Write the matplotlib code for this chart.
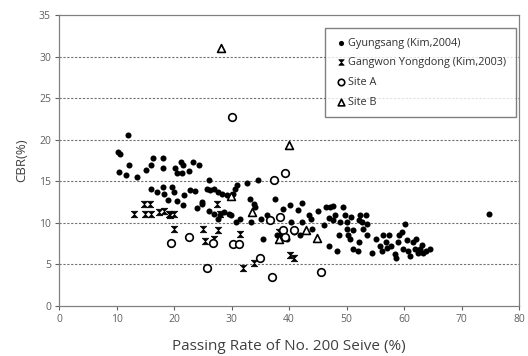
import matplotlib
matplotlib.use("Agg")
import matplotlib.pyplot as plt
from matplotlib.path import Path

plt.rcParams['font.family'] = ['Open Sans', 'DejaVu Sans']

gy_x = [10.2, 10.5, 12.0, 10.4, 12.2, 11.6, 13.5, 15.1, 15.9, 16.3, 18.1, 18.1, 16.0, 17.0, 18.1, 18.2,
        18.9, 19.7, 20.0, 20.2, 20.4, 21.1, 21.5, 21.3, 22.6, 23.2, 24.3, 20.5, 21.5, 21.7, 22.8, 23.6,
        24.0, 24.8, 24.9, 26.1, 25.7, 26.2, 27.0, 27.7, 28.3, 29.2, 26.1, 26.9, 27.7, 28.0, 28.7, 29.5,
        29.9, 30.6, 30.9, 30.2, 30.7, 31.4, 32.7, 34.5, 33.2, 33.8, 34.1, 33.4, 35.4, 35.1, 36.1, 37.5,
        37.9, 39.0, 39.6, 40.2, 40.4, 40.8, 41.6, 42.2, 41.9, 42.2, 43.4, 43.8, 43.9, 45.1, 46.0, 46.5,
        47.1, 47.7, 47.0, 47.7, 48.0, 47.0, 48.3, 48.6, 48.9, 49.3, 49.7, 50.0, 50.0, 50.3, 50.6, 50.7,
        51.1, 51.1, 51.9, 52.2, 52.1, 52.3, 52.6, 52.9, 53.4, 53.5, 53.6, 54.5, 55.2, 55.8, 56.1, 56.4,
        56.9, 57.1, 57.4, 57.8, 58.4, 58.6, 59.0, 59.2, 59.6, 59.9, 60.2, 60.6, 60.7, 61.0, 61.6, 61.9,
        62.1, 62.5, 62.8, 63.1, 63.3, 63.8, 64.5, 74.8]
gy_y = [18.5, 18.3, 20.6, 16.1, 16.9, 15.7, 15.5, 16.4, 17.0, 17.8, 17.8, 16.6, 14.1, 13.7, 14.3, 13.5,
        12.7, 14.3, 13.7, 16.6, 16.0, 17.3, 16.9, 16.0, 16.2, 17.3, 16.9, 12.6, 12.1, 13.3, 13.9, 13.8,
        11.8, 12.3, 12.5, 15.1, 14.1, 13.9, 14.1, 13.7, 13.5, 13.3, 11.4, 11.1, 10.5, 10.9, 11.3, 11.0,
        10.9, 14.1, 14.5, 13.5, 10.1, 10.4, 14.8, 15.2, 12.9, 12.3, 11.9, 10.1, 8.0, 10.5, 10.9, 12.9,
        8.5, 11.6, 8.0, 12.1, 10.1, 8.9, 11.5, 12.4, 8.5, 10.1, 10.9, 10.5, 9.3, 11.4, 9.7, 11.9,
        11.9, 12.0, 10.6, 10.3, 10.9, 7.2, 6.6, 8.5, 10.1, 11.9, 10.9, 10.1, 9.3, 8.5, 8.0, 10.7,
        9.1, 6.8, 6.6, 7.7, 10.3, 10.9, 10.1, 9.3, 10.9, 9.9, 8.5, 6.4, 8.0, 7.2, 6.6, 8.5,
        7.7, 6.9, 8.5, 7.2, 6.2, 5.8, 7.7, 8.5, 8.9, 6.8, 9.8, 7.9, 6.6, 6.0, 7.7, 6.8,
        8.0, 6.4, 6.8, 7.3, 6.4, 6.6, 6.8, 11.0]

gw_x = [13.0, 14.8, 15.7, 15.0, 15.9, 17.3, 18.3, 19.1, 19.3, 19.9, 19.9, 25.0, 25.4, 26.9, 27.4,
        27.9, 27.7, 31.5, 31.9, 33.8, 40.1, 40.9, 38.2, 38.5]
gw_y = [11.0, 12.3, 12.2, 11.1, 11.0, 11.3, 11.4, 11.1, 10.9, 11.1, 9.3, 9.3, 7.8, 8.0, 12.3,
        11.1, 9.1, 8.7, 4.5, 5.1, 6.1, 5.8, 8.9, 8.3]

sa_x = [30.0, 37.4, 39.3, 36.6, 38.4, 39.0, 39.3, 40.9, 19.5, 22.5, 25.7, 26.7, 30.3, 31.2, 35.0, 37.0, 45.5]
sa_y = [22.8, 15.2, 16.0, 10.3, 10.7, 9.1, 8.3, 9.1, 7.5, 8.3, 4.5, 7.6, 7.4, 7.4, 5.7, 3.5, 4.1]

sb_x = [28.2, 39.9, 29.9, 33.5, 38.2, 43.0, 44.8]
sb_y = [31.1, 19.4, 13.2, 11.3, 8.0, 9.1, 8.2]

labels = ['Gyungsang (Kim,2004)', 'Gangwon Yongdong (Kim,2003)', 'Site A', 'Site B']
x_ticks = [0, 10, 20, 30, 40, 50, 60, 70, 80]
y_ticks = [0, 5, 10, 15, 20, 25, 30, 35]

# hourglass marker (Excel-like "x")
hg = Path([(-1, 1), (1, 1), (0, 0), (-1, 1), (-1, -1), (1, -1), (0, 0), (-1, -1)],
          [Path.MOVETO, Path.LINETO, Path.LINETO, Path.CLOSEPOLY,
           Path.MOVETO, Path.LINETO, Path.LINETO, Path.CLOSEPOLY])

fig = plt.figure(figsize=(5.28, 3.56), dpi=100)
ax = fig.add_axes([0.1123, 0.1413, 0.8706, 0.8157])

ax.scatter(gy_x, gy_y, s=19, c='black', marker='o', linewidths=0, label=labels[0], zorder=3)
ax.scatter(gw_x, gw_y, s=22, c='black', marker=hg, linewidths=0.5, edgecolors='black', label=labels[1], zorder=3)
ax.scatter(sa_x, sa_y, s=30, facecolors='white', edgecolors='black', marker='o', linewidths=1.2, label=labels[2], zorder=4)
ax.scatter(sb_x, sb_y, s=32, facecolors='white', edgecolors='black', marker='^', linewidths=1.2, label=labels[3], zorder=4)

ax.set_xlim(0, 80)
ax.set_ylim(0, 35)
ax.set_xticks(x_ticks)
ax.set_yticks(y_ticks)
for yv in y_ticks[1:-1]:
    ax.axhline(yv, color='#707070', lw=0.8, ls=(0, (2, 1.5)), zorder=1)

ax.tick_params(axis='both', labelsize=7.5, colors='#606060', length=3, width=0.8, pad=3)
for s in ax.spines.values():
    s.set_color('#808080')
    s.set_linewidth(0.9)

ax.set_xlabel('Passing Rate of No. 200 Seive (%)', fontsize=11, color='#404040', labelpad=10)
ax.set_ylabel('CBR(%)', fontsize=9.5, color='#404040', labelpad=8)

leg = ax.legend(loc='upper right', bbox_to_anchor=(0.9925, 0.955), fontsize=7.8, frameon=True,
                fancybox=False, edgecolor='#606060', handletextpad=0.1, handlelength=1.2,
                borderpad=0.85, labelspacing=0.8, markerscale=0.85, borderaxespad=0.0)
leg.get_frame().set_linewidth(1.0)
for t in leg.get_texts():
    t.set_color('#303030')

fig.savefig('out.png', dpi=100)
